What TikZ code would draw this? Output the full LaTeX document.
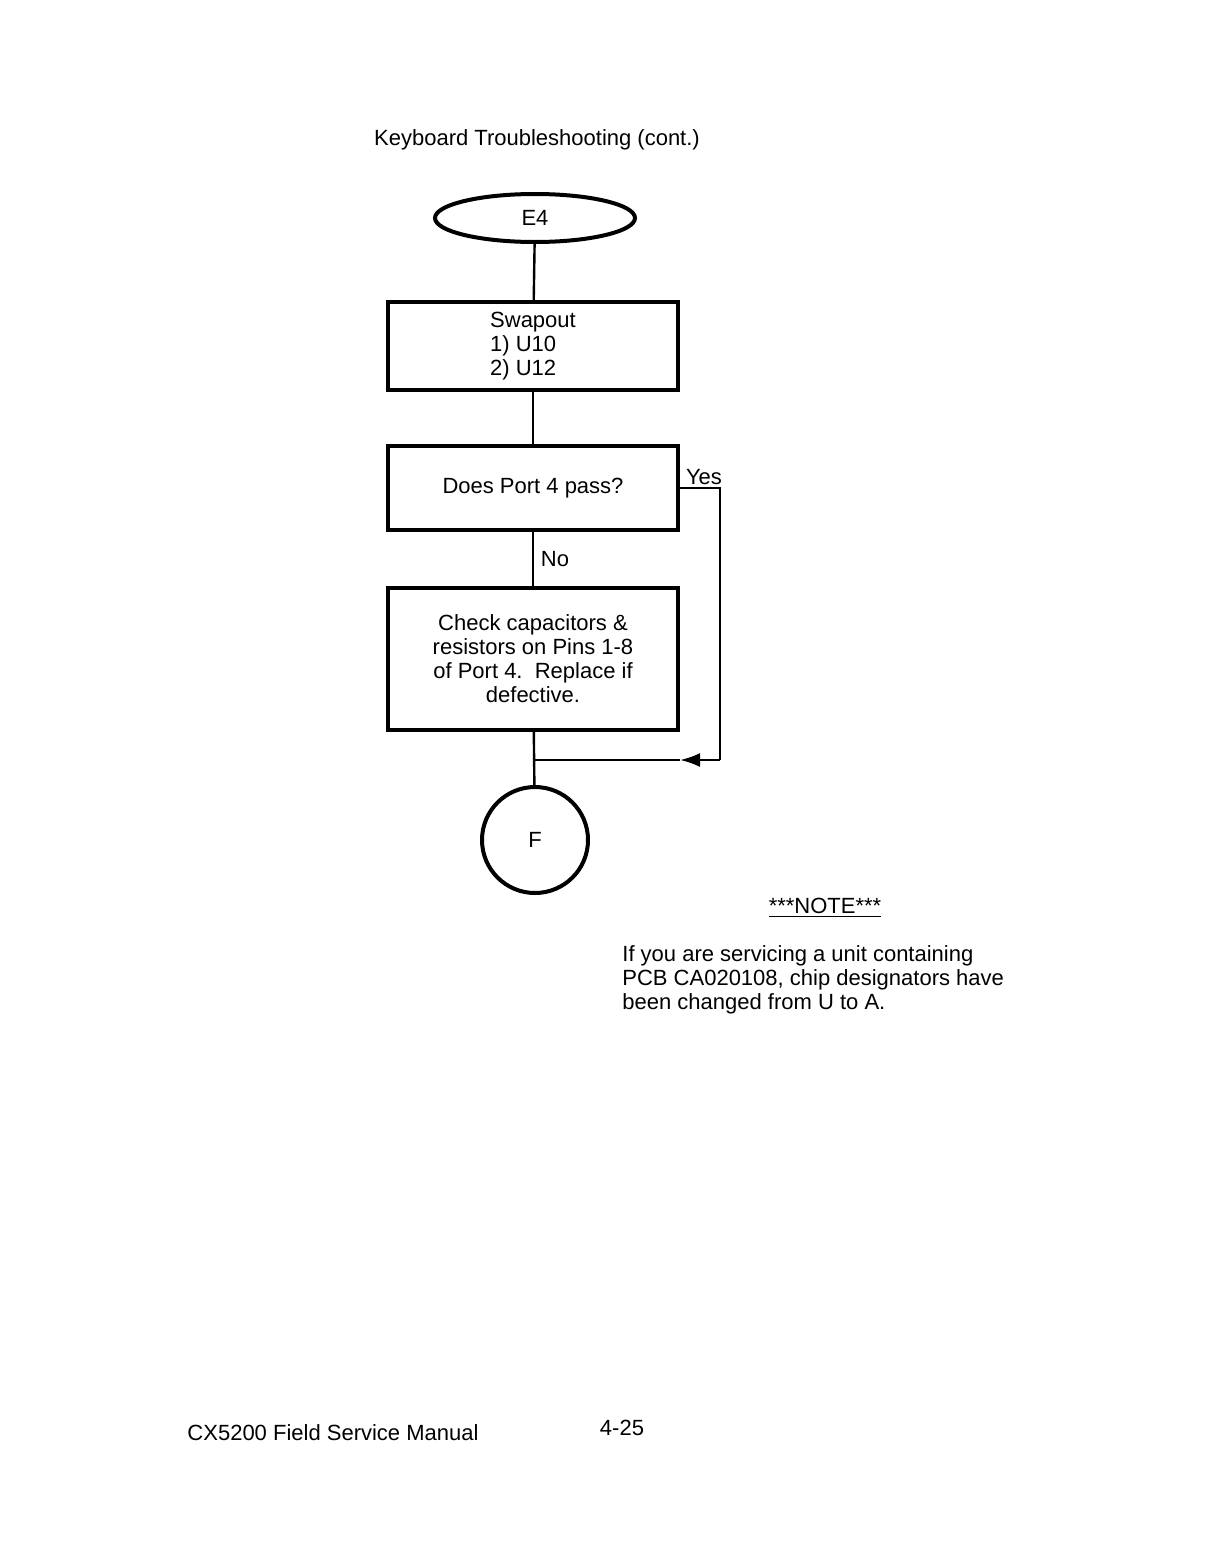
\documentclass[tikz,border=0pt]{standalone}
\usepackage{fontspec}
\setmainfont{Liberation Sans}
\usetikzlibrary{shapes.geometric,arrows.meta}
\begin{document}
\begin{tikzpicture}[x=0.5pt, y=-0.5pt, every node/.style={font=\fontsize{11}{12}\selectfont},
  box/.style={draw, line width=2pt, minimum width=145pt, inner sep=0pt},
  flow/.style={line width=1.2pt}]
\useasboundingbox (0,0) rectangle (1218,1558);

% Title
\node (title) at (537,140) {Keyboard Troubleshooting (cont.)};

% Flowchart
\node[ellipse, draw, line width=2pt, minimum width=100pt, minimum height=24pt] (e4) at (535,218) {E4};
\node[box, minimum height=44pt, align=left] (swap) at (533,346) {Swapout\\1) U10\\2) U12};
\node[box, minimum height=42pt] (port) at (533,488) {Does Port 4 pass?};
\node[box, minimum height=71pt, align=center] (check) at (533,659)
  {Check capacitors \&\\resistors on Pins 1-8\\of Port 4.\ \ Replace if\\defective.};
\node[circle, draw, line width=2pt, minimum size=53pt] (f) at (535,840) {F};

\coordinate (corner) at (720,760);
\coordinate (join) at (535,760);
\coordinate (tip) at (680,760);

\draw[flow] (e4) -- (swap);
\draw[flow] (swap) -- (port);
\draw[flow] (port) -- node[right] {No} (check);
\draw[flow] (check) -- (f);
\draw[flow] (port.east) -- node[above, pos=0.6, inner sep=1pt] {Yes} (port.east -| corner) -- (corner);
\draw[flow, -{Latex[length=10pt,width=7pt]}] (corner) -- (tip);
\draw[flow] (tip) -- (join);

% Note
\node (note) at (825,908) {\underline{***NOTE***}};
\node[anchor=north west, align=left, inner sep=0pt] (notetext) at (622,945)
  {If you are servicing a unit containing\\PCB CA020108, chip designators have\\been changed from U to A.};

% Footer
\node (manual) at (333,1433) {CX5200 Field Service Manual};
\node (page) at (622,1428) {4-25};
\end{tikzpicture}
\end{document}
